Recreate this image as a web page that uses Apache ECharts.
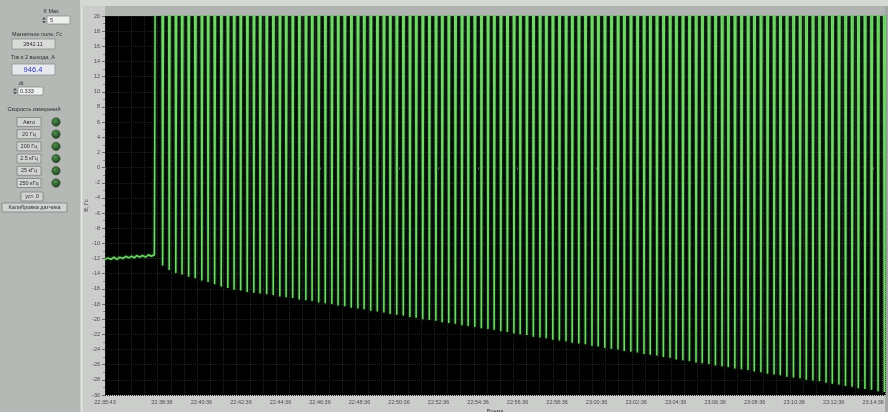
<!DOCTYPE html>
<html>
<head>
<meta charset="utf-8">
<script src="https://cdn.jsdelivr.net/npm/echarts@6/dist/echarts.min.js"></script>
<style>
  html, body { margin: 0; padding: 0; background: #b5b9b5; }
  #c { width: 888px; height: 412px; }
</style>
</head>
<body>
<div id="c"></div>
<script>
// ---- recorded signal (time in seconds from start of record) ----
const idleTimes = [0,3,6,9,12,15,18,21,24,27,30,33,36,39,42,45,48,51,54,57,60,63,66,69,72,75,78,81,84,87,90,93,96,99,102,105,108,111,114,117,120,123,126,129,132,135,138,141,144,147,150,153];
const idleValues = [-12.1,-12.1,-12.0,-11.9,-11.9,-12.0,-12.1,-12.1,-12.0,-11.8,
  -11.9,-12.0,-12.1,-12.0,-11.9,-11.8,-11.9,-12.0,-12.0,-12.0,
  -11.8,-11.7,-11.8,-11.9,-11.9,-11.9,-11.7,-11.7,-11.8,-11.9,
  -11.9,-11.8,-11.6,-11.7,-11.8,-11.8,-11.8,-11.7,-11.6,-11.6,
  -11.7,-11.8,-11.7,-11.6,-11.5,-11.6,-11.7,-11.7,-11.6,-11.5,
  -11.5,-11.6];
const riseTime = 155;       // signal leaves the idle level and saturates
const peakLevel = 60;       // saturated level, above the visible range

// moments when the signal drops back to the baseline, and the baseline value there
const pulseTimes = [176,196,216,235, 255,275,295,314, 334,354,374,393, 413,433,453,472,
  492,512,532,551, 571,591,611,630, 650,670,690,709, 729,749,769,788,
  808,828,848,867, 887,907,927,946, 966,986,1006,1025, 1045,1065,1085,1104,
  1124,1144,1164,1183, 1203,1223,1243,1262, 1282,1302,1322,1341, 1361,1381,1401,1420,
  1440,1460,1480,1499, 1519,1539,1559,1578, 1598,1618,1638,1657, 1677,1697,1717,1736,
  1756,1776,1796,1815, 1835,1855,1875,1894, 1914,1934,1954,1973, 1993,2013,2033,2052,
  2072,2092,2112,2131, 2151,2171,2191,2210, 2230,2250,2270,2289, 2309,2329,2349,2368];
const pulseLows = [-12.9,-13.5,-13.9,-14.1,-14.4,-14.6,-14.9,-15.1,-15.4,-15.7,
  -15.9,-16.1,-16.2,-16.4,-16.5,-16.6,-16.7,
  -16.8,-17.0,-17.1,-17.2,-17.4,-17.5,-17.6,-17.8,-17.9,-18.0,
  -18.2,-18.3,-18.5,-18.6,-18.7,-18.9,-19.0,-19.1,-19.3,-19.4,
  -19.5,-19.7,-19.8,-20.0,-20.1,-20.2,-20.4,-20.5,-20.6,-20.8,
  -20.9,-21.0,-21.2,-21.3,-21.4,-21.6,-21.7,-21.9,-22.0,-22.1,
  -22.3,-22.4,-22.5,-22.7,-22.8,-22.9,-23.1,-23.2,-23.3,-23.5,
  -23.6,-23.8,-23.9,-24.0,-24.2,-24.3,-24.4,-24.6,-24.7,-24.8,
  -25.0,-25.1,-25.3,-25.4,-25.5,-25.7,-25.8,-25.9,-26.1,-26.2,
  -26.3,-26.5,-26.6,-26.7,-26.9,-27.0,-27.2,-27.3,-27.4,-27.6,
  -27.7,-27.8,-28.0,-28.1,-28.2,-28.4,-28.5,-28.6,-28.8,-28.9,
  -29.1,-29.2,-29.3,-29.5,-29.6];

// ---- axes ----
const timeSpan = 2369;
const timeTickSeconds = [0,173,293,413,533,653,773,893,1013,1133,1253,1373,1493,1613,1733,1853,1973,2093,2213,2333];
const timeTickLabels = ['22:35:43','22:38:36','22:40:36','22:42:36','22:44:36','22:46:36','22:48:36','22:50:36',
  '22:52:36','22:54:36','22:56:36','22:58:36','23:00:36','23:02:36','23:04:36','23:06:36','23:08:36',
  '23:10:36','23:12:36','23:14:36'];
const yMin = -30, yMax = 20, yStep = 2;

// ---- front panel texts ----
const rateButtons = ['Авто','20 Гц','200 Гц','2.5 кГц','25 кГц','250 кГц'];

// build the polyline: idle level, then a saturated signal that dips to the baseline
const signal = idleTimes.map((t, i) => [t, idleValues[i]]);
signal.push([riseTime, peakLevel]);
pulseTimes.forEach((t, i) => {
  signal.push([t - 4.5, peakLevel], [t - 1, pulseLows[i]], [t + 1, pulseLows[i]], [t + 4.5, peakLevel]);
});

const FONT = 'Liberation Sans';
const txt = (text, x, y, opt = {}) => ({
  type: 'text', z: 5,
  style: Object.assign({
    text, x, y, fill: '#2c2c2c', fontSize: 5.5, fontFamily: FONT,
    align: 'center', verticalAlign: 'middle', textAlign: 'center', textVerticalAlign: 'middle'
  }, opt)
});
const box = (x, y, w, h, fill, stroke) => ({
  type: 'rect', z: 4, shape: { x, y, width: w, height: h },
  style: { fill, stroke: stroke || '#8e918e', lineWidth: 0.8 }
});
const led = (cx, cy) => ({
  type: 'circle', z: 4, shape: { cx, cy, r: 4.2 },
  style: {
    fill: new echarts.graphic.RadialGradient(0.4, 0.35, 0.7, [
      { offset: 0, color: '#4f8f4a' }, { offset: 1, color: '#183d1a' }
    ]),
    stroke: '#3d4a3d', lineWidth: 0.6
  }
});
const spinner = (x, y) => ([
  { type: 'polygon', z: 5, shape: { points: [[x, y + 2.5], [x + 2, y], [x + 4, y + 2.5]] }, style: { fill: '#555' } },
  { type: 'polygon', z: 5, shape: { points: [[x, y + 4], [x + 2, y + 6.5], [x + 4, y + 4]] }, style: { fill: '#555' } }
]);

const graphics = [
  // panel backgrounds
  { type: 'rect', z: -5, shape: { x: 0, y: 0, width: 80, height: 412 }, style: { fill: '#b5b9b5' } },
  { type: 'rect', z: -5, shape: { x: 80, y: 0, width: 25, height: 412 }, style: { fill: '#cbcdcb' } },
  { type: 'rect', z: -5, shape: { x: 81, y: 0, width: 1.5, height: 412 }, style: { fill: '#e2e4e2' } },
  { type: 'rect', z: -5, shape: { x: 105, y: 0, width: 783, height: 16 }, style: { fill: '#b1b3b1' } },
  { type: 'rect', z: -5, shape: { x: 80, y: 0, width: 808, height: 6 }, style: { fill: '#d6d8d6' } },
  { type: 'rect', z: -5, shape: { x: 105, y: 395, width: 783, height: 17 }, style: { fill: '#cbcdcb' } },
  { type: 'rect', z: -5, shape: { x: 885, y: 6, width: 3, height: 406 }, style: { fill: '#a5a7a5' } },

  // front panel controls
  txt('X Max', 51, 11),
  ...spinner(42, 17),
  box(47, 16, 23, 8, '#eef0ee'),
  txt('5', 50, 20, { align: 'left', textAlign: 'left' }),
  txt('Магнитное поле, Гс', 37, 34),
  box(12, 39, 43, 10, '#d9dbd9'),
  txt('2842.11', 33, 44),
  txt('Ток к 2 выхода, А', 33, 57),
  box(12, 64, 43, 11, '#e6e8ee'),
  txt('946.4', 33, 69.5, { fill: '#2a35b8', fontSize: 7.5 }),
  txt('dt', 21, 83),
  ...spinner(13, 88),
  box(18, 87, 25, 8, '#eef0ee'),
  txt('0.333', 20, 91, { align: 'left', textAlign: 'left' }),
  txt('Скорость измерений', 34, 109)
];
rateButtons.forEach((label, i) => {
  const cy = 122 + i * 12.2;
  graphics.push(box(17, cy - 4.5, 24, 9, '#d2d4d2', '#7e817e'));
  graphics.push(txt(label, 29, cy));
  graphics.push(led(56, cy));
});
graphics.push(box(21, 192, 22, 9, '#d2d4d2', '#7e817e'), txt('уст. 0', 32, 196.5));
graphics.push(box(2, 203, 65, 9, '#d2d4d2', '#7e817e'), txt('Калибровка датчика', 34.5, 207.5));

const chart = echarts.init(document.getElementById('c'), null, { renderer: 'canvas' });
chart.setOption({
  animation: false,
  backgroundColor: 'transparent',
  textStyle: { fontFamily: FONT },
  grid: {
    left: 105, right: 3, top: 16, bottom: 17,
    containLabel: false, outerBoundsMode: 'none',
    show: true, backgroundColor: '#000', borderWidth: 0
  },
  xAxis: [{
    type: 'value', min: 0, max: timeSpan,
    name: 'Время', nameLocation: 'middle', nameGap: 13, nameMoveOverlap: false,
    nameTextStyle: { fontSize: 5.5, color: '#3a3a3a' },
    axisLine: { show: false },
    axisTick: { show: true, customValues: timeTickSeconds, length: 2, lineStyle: { color: '#666' } },
    axisLabel: {
      customValues: timeTickSeconds, fontSize: 5.5, color: '#4a4a4a', margin: 4,
      formatter: v => { const i = timeTickSeconds.indexOf(v); return i >= 0 ? timeTickLabels[i] : ''; }
    },
    splitLine: { show: false }
  }, {
    type: 'value', min: 0, max: timeSpan, interval: 40, show: true, position: 'bottom',
    axisLine: { show: false }, axisTick: { show: false }, axisLabel: { show: false },
    splitLine: { show: true, lineStyle: { color: '#232523', type: 'dotted', width: 1 } }
  }],
  yAxis: {
    type: 'value', min: yMin, max: yMax, interval: yStep,
    name: 'B, Гс', nameLocation: 'middle', nameGap: 16, nameRotate: 90, nameMoveOverlap: false,
    nameTextStyle: { fontSize: 5.5, color: '#3a3a3a' },
    axisLine: { show: false },
    axisTick: { show: true, inside: false, length: 3, lineStyle: { color: '#6a6a6a' } },
    minorTick: { show: true, splitNumber: 2, length: 2, lineStyle: { color: '#8a8a8a' } },
    axisLabel: { fontSize: 5.5, color: '#4a4a4a', margin: 5 },
    splitLine: { show: true, lineStyle: { color: '#1e201e', type: 'dotted', width: 1 } }
  },
  graphic: graphics,
  series: [{
    type: 'line', xAxisIndex: 0, data: signal, showSymbol: false, symbol: 'none',
    clip: true, silent: true,
    lineStyle: { color: '#74d66b', width: 1.5, shadowColor: '#2b8a32', shadowBlur: 2.5 }
  }]
});
</script>
</body>
</html>
